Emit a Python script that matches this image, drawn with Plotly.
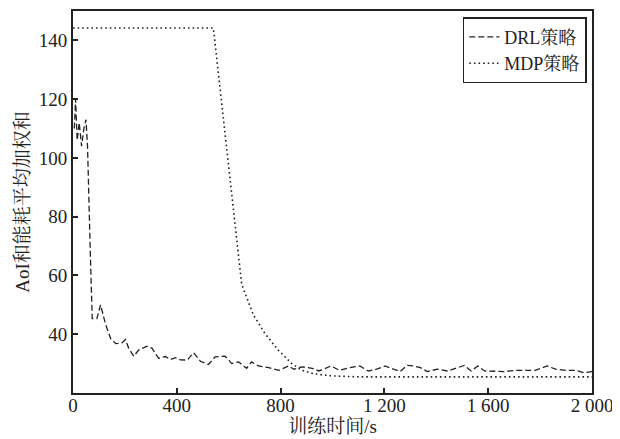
import plotly.graph_objects as go

# DRL strategy curve
drl_x = [5, 10, 16, 24, 33, 42, 50, 56, 66, 74, 92, 106, 125, 145, 165, 190, 202, 215, 234, 253,
         285, 304, 330, 356, 375, 395, 414, 440, 465, 491, 522, 548, 586, 612, 638, 669, 688, 714,
         754, 793, 831, 851, 883, 922, 948, 994, 1027, 1066, 1105, 1138, 1170, 1203, 1235, 1261,
         1287, 1313, 1339, 1365, 1404, 1443, 1482, 1508, 1534, 1560, 1586, 1625, 1664, 1703, 1742,
         1781, 1827, 1860, 1898, 1937, 1970, 2000]
drl_y = [110, 120, 106, 112, 104, 110, 113, 104, 70, 45.3, 45.3, 50, 43.5, 38.5, 36.8, 37.1, 38.2, 35.2, 32.5, 34.6,
         35.9, 35.3, 31.8, 32.4, 31.4, 32, 31.3, 31.2, 33.7, 30.8, 29.7, 32.3, 32.5, 30, 30.6, 28.4, 30.6, 29.2,
         28.6, 27.7, 29.2, 28.1, 28.9, 28.4, 27.5, 29.2, 27.7, 28.6, 29.2, 27.5, 28.1, 29.2, 28.1, 27.3,
         29.4, 29.2, 28.6, 27.3, 28.1, 27.5, 28.6, 29.4, 27.5, 29.2, 27.5, 27.5, 27.3, 27.7, 27.7,
         27.7, 29.2, 28.1, 27.7, 27.7, 26.9, 27.3]

# MDP strategy curve
mdp_x = [0, 541, 650, 695, 740, 791, 842, 880, 930, 1000, 1100, 2000]
mdp_y = [144.2, 144.2, 57, 46.6, 40.2, 34.6, 30.1, 27.8, 26.5, 25.8, 25.5, 25.5]

x_ticks = [0, 400, 800, 1200, 1600, 2000]
x_ticktext = ["0", "400", "800", "1 200", "1 600", "2 000"]
y_ticks = [40, 60, 80, 100, 120, 140]

FONT = "Liberation Serif, Noto Serif CJK SC, Noto Sans CJK SC, serif"
INK = "#222222"

fig = go.Figure()
fig.add_trace(go.Scatter(x=drl_x, y=drl_y, mode="lines", name="DRL策略",
                         line=dict(color=INK, width=1.3, dash="6px,3px")))
fig.add_trace(go.Scatter(x=mdp_x, y=mdp_y, mode="lines", name="MDP策略",
                         line=dict(color=INK, width=1.6, dash="1.6px,3px")))

axis_common = dict(showgrid=False, zeroline=False, showline=True, mirror=True,
                   linecolor=INK, linewidth=2, ticks="inside", ticklen=5,
                   tickwidth=1.5, tickcolor=INK,
                   tickfont=dict(family=FONT, size=19, color=INK))

fig.update_xaxes(range=[0, 2000], tickvals=x_ticks, ticktext=x_ticktext,
                 ticklabelstandoff=-6,
                 title=dict(text="训练时间/s", font=dict(family=FONT, size=19, color=INK), standoff=2),
                 **axis_common)
fig.update_yaxes(range=[20, 150], tickvals=y_ticks,
                 title=dict(text="AoI和能耗平均加权和", font=dict(family=FONT, size=19, color=INK), standoff=4),
                 **axis_common)

fig.update_layout(
    width=612, height=431,
    margin=dict(l=65, r=28, t=1, b=46),
    plot_bgcolor="white", paper_bgcolor="white",
    font=dict(family=FONT, size=19, color=INK),
    showlegend=True,
    legend=dict(x=0.99, y=0.984, xanchor="right", yanchor="top",
                bgcolor="white", bordercolor=INK, borderwidth=1.5,
                font=dict(family=FONT, size=18, color=INK),
                tracegroupgap=0, itemwidth=30),
)

fig.write_html("out.html")
